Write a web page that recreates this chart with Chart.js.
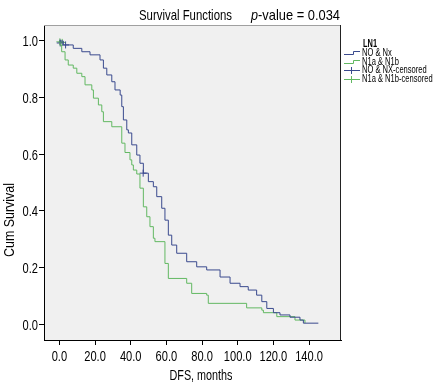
<!DOCTYPE html>
<html>
<head>
<meta charset="utf-8">
<script src="https://cdn.jsdelivr.net/npm/chart.js@4.4.0/dist/chart.umd.min.js"></script>
<style>
  body { margin: 0; background: #fff; }
  canvas { display: block; }
</style>
</head>
<body>
<canvas id="km" width="445" height="388"></canvas>
<script>
const FONT = '"Liberation Sans", Arial, sans-serif';
const BLUE = "#3a4a8e";
const GREEN = "#62b862";

// axis ticks
const xTicks = [0, 20, 40, 60, 80, 100, 120, 140];
const yTicks = [0, 0.2, 0.4, 0.6, 0.8, 1.0];

// NO & Nx  (time of drop, survival after drop)
const blueTime = [0, 2.2, 7.8, 12.6, 17.2, 22.8, 24.7, 26.6, 29.4, 31.2, 34.1, 35.0, 35.9, 37.8, 38.7, 40.6, 43.4, 45.2, 47.1, 49.9, 52.7, 54.6, 57.4, 59.2, 61.1, 63.0, 65.8, 71.4, 77.0, 82.6, 90.1, 95.7, 101.3, 105.9, 110.6, 113.5, 116.3, 120.0, 123.7, 129.3, 134.9, 136.8, 145.2];
const blueSurv = [1.0, 0.986, 0.974, 0.962, 0.951, 0.933, 0.904, 0.880, 0.856, 0.827, 0.809, 0.768, 0.721, 0.686, 0.675, 0.633, 0.597, 0.568, 0.533, 0.503, 0.485, 0.450, 0.409, 0.367, 0.314, 0.279, 0.250, 0.220, 0.202, 0.191, 0.166, 0.144, 0.132, 0.120, 0.102, 0.079, 0.055, 0.040, 0.032, 0.024, 0.014, 0.003, 0.003];

// N1a & N1b
const greenTime = [0, 0.4, 1.3, 3.2, 5.0, 7.8, 9.8, 12.6, 14.4, 18.2, 19.1, 21.9, 23.8, 24.7, 29.4, 35.0, 36.8, 39.6, 40.6, 41.5, 43.4, 45.2, 47.1, 49.0, 50.8, 52.7, 53.6, 59.2, 61.1, 71.4, 74.2, 82.6, 83.5, 105.0, 113.5, 114.4, 121.9, 132.1, 137.7];
const greenSurv = [1.0, 0.986, 0.962, 0.933, 0.915, 0.904, 0.886, 0.874, 0.845, 0.827, 0.798, 0.774, 0.750, 0.715, 0.697, 0.639, 0.606, 0.580, 0.562, 0.544, 0.530, 0.480, 0.414, 0.379, 0.344, 0.303, 0.291, 0.214, 0.161, 0.144, 0.108, 0.102, 0.073, 0.057, 0.049, 0.040, 0.026, 0.014, 0.003];

// censored marks
const blueCensTime = [0.5, 3.5, 47.0];
const blueCensSurv = [0.993, 0.986, 0.533];
const greenCensTime = [0.3, 1.6];
const greenCensSurv = [0.997, 0.995];

const pts = (t, s) => t.map((v, i) => ({ x: v, y: s[i] }));

// the reference uses a condensed face: squeeze the text horizontally
function textSx(ctx, str, x, y, sx, align) {
  ctx.save();
  ctx.translate(x, y);
  ctx.scale(sx, 1);
  ctx.textAlign = align;
  ctx.fillText(str, 0, 0);
  ctx.restore();
}
function textFit(ctx, str, x, y, w, align) {
  textSx(ctx, str, x, y, w / ctx.measureText(str).width, align);
}

const frame = {
  id: "frame",
  beforeDraw(chart) {
    const { ctx, chartArea: a } = chart;
    ctx.save();
    ctx.fillStyle = "#f0f0f0";
    ctx.fillRect(a.left, a.top, a.right - a.left, a.bottom - a.top);
    ctx.restore();
  },
  afterDraw(chart) {
    const { ctx, chartArea: a, scales } = chart;
    ctx.save();
    ctx.lineWidth = 1;
    ctx.strokeStyle = "#a0a0a0";
    ctx.beginPath(); ctx.moveTo(a.left, a.top + 0.5); ctx.lineTo(a.right, a.top + 0.5); ctx.stroke();
    ctx.strokeStyle = "#222";
    ctx.beginPath(); ctx.moveTo(a.right - 0.5, a.top); ctx.lineTo(a.right - 0.5, a.bottom); ctx.stroke();

    ctx.fillStyle = "#000";
    ctx.textBaseline = "alphabetic";

    // tick labels
    ctx.font = "15px " + FONT;
    xTicks.forEach(v => textSx(ctx, v.toFixed(1), scales.x.getPixelForValue(v), 361, 0.74, "center"));
    yTicks.forEach(v => textSx(ctx, v.toFixed(1), 38, scales.y.getPixelForValue(v) + 5.5, 0.74, "right"));

    // title
    ctx.font = "15px " + FONT;
    textFit(ctx, "Survival Functions", 139, 20, 93, "left");
    ctx.font = "italic 15px " + FONT;
    textFit(ctx, "p", 251, 20, 7, "left");
    ctx.font = "15px " + FONT;
    textFit(ctx, "-value = 0.034", 258, 20, 82, "left");

    // axis titles
    ctx.font = "15px " + FONT;
    textFit(ctx, "DFS, months", 201, 380, 63, "center");
    ctx.save();
    ctx.translate(14, 220);
    ctx.rotate(-Math.PI / 2);
    textFit(ctx, "Cum Survival", 0, 0, 74, "center");
    ctx.restore();

    // legend
    ctx.textBaseline = "middle";
    ctx.font = "bold 10px " + FONT;
    textFit(ctx, "LN1", 363, 44, 14, "left");
    const entries = [
      ["NO & Nx", BLUE, "step"],
      ["N1a & N1b", GREEN, "step"],
      ["NO & NX-censored", BLUE, "cross"],
      ["N1a & N1b-censored", GREEN, "cross"]
    ];
    ctx.font = "10.5px " + FONT;
    entries.forEach(([label, col, kind], i) => {
      const y = Math.round(53 + i * 8.5);
      ctx.strokeStyle = col;
      ctx.beginPath();
      if (kind === "step") {
        ctx.moveTo(344, y + 1.5); ctx.lineTo(353.5, y + 1.5);
        ctx.lineTo(353.5, y - 1.5); ctx.lineTo(360, y - 1.5);
      } else {
        ctx.moveTo(344, y + 0.5); ctx.lineTo(360, y + 0.5);
        ctx.moveTo(351.5, y - 3); ctx.lineTo(351.5, y + 4);
      }
      ctx.stroke();
      ctx.fillStyle = "#000";
      textSx(ctx, label, 362, y, 0.72, "left");
    });
    ctx.restore();
  }
};

new Chart(document.getElementById("km"), {
  type: "line",
  data: {
    datasets: [
      { label: "NO & Nx", data: pts(blueTime, blueSurv), borderColor: BLUE, borderWidth: 1, stepped: "before", pointRadius: 0 },
      { label: "N1a & N1b", data: pts(greenTime, greenSurv), borderColor: GREEN, borderWidth: 1, stepped: "before", pointRadius: 0 },
      { label: "NO & NX-censored", data: pts(blueCensTime, blueCensSurv), showLine: false, pointStyle: "cross", pointRadius: 3.5, borderColor: BLUE, borderWidth: 1 },
      { label: "N1a & N1b-censored", data: pts(greenCensTime, greenCensSurv), showLine: false, pointStyle: "cross", pointRadius: 3.5, borderColor: GREEN, borderWidth: 1 }
    ]
  },
  options: {
    responsive: false,
    animation: false,
    layout: { padding: { top: 25, right: 104, left: 0, bottom: 0 } },
    plugins: { legend: { display: false }, tooltip: { enabled: false } },
    scales: {
      x: {
        type: "linear",
        min: -8.6,
        max: 157.9,
        afterBuildTicks: s => { s.ticks = xTicks.map(v => ({ value: v })); },
        afterFit: s => { s.height = 48; },
        grid: { display: true, drawOnChartArea: false, tickLength: 5, color: "#000" },
        border: { display: true, color: "#000" },
        ticks: { display: false }
      },
      y: {
        type: "linear",
        min: -0.0565,
        max: 1.0565,
        afterBuildTicks: s => { s.ticks = yTicks.map(v => ({ value: v })); },
        afterFit: s => { s.width = 44; },
        grid: { display: true, drawOnChartArea: false, tickLength: 5, color: "#000" },
        border: { display: true, color: "#000" },
        ticks: { display: false }
      }
    }
  },
  plugins: [frame]
});
</script>
</body>
</html>
